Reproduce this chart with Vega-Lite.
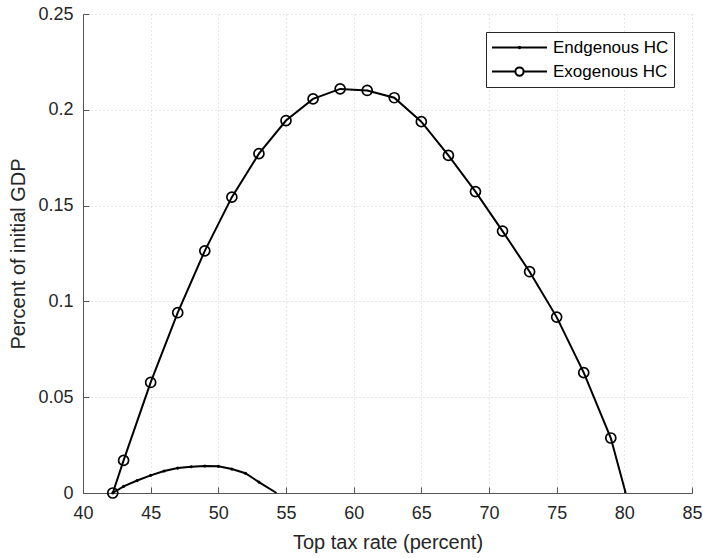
{
  "$schema": "https://vega.github.io/schema/vega-lite/v6.json",
  "width": 609,
  "height": 479,
  "autosize": "none",
  "padding": {"left": 83, "top": 14, "right": 11, "bottom": 65},
  "background": "white",
  "config": {
    "font": "Liberation Sans",
    "view": {"stroke": null},
    "axis": {
      "domainColor": "#555555",
      "tickColor": "#555555",
      "tickSize": -6,
      "labelFontSize": 18,
      "labelColor": "#262626",
      "labelFlush": false,
      "titleFontSize": 20,
      "titleFontWeight": "normal",
      "titleColor": "#262626",
      "gridColor": "#cccccc",
      "gridDash": [1, 3],
      "gridWidth": 1
    }
  },
  "data": {
    "values": [
      {"series": "Endgenous HC", "rate": 42.2, "gdp": 0},
      {"series": "Endgenous HC", "rate": 43, "gdp": 0.0035},
      {"series": "Endgenous HC", "rate": 44, "gdp": 0.0065},
      {"series": "Endgenous HC", "rate": 45, "gdp": 0.0092},
      {"series": "Endgenous HC", "rate": 46, "gdp": 0.0115},
      {"series": "Endgenous HC", "rate": 47, "gdp": 0.013},
      {"series": "Endgenous HC", "rate": 48, "gdp": 0.0137},
      {"series": "Endgenous HC", "rate": 49, "gdp": 0.0141},
      {"series": "Endgenous HC", "rate": 50, "gdp": 0.0139},
      {"series": "Endgenous HC", "rate": 51, "gdp": 0.0125},
      {"series": "Endgenous HC", "rate": 52, "gdp": 0.0103},
      {"series": "Endgenous HC", "rate": 53, "gdp": 0.0057},
      {"series": "Endgenous HC", "rate": 54.3, "gdp": 0},
      {"series": "Exogenous HC", "rate": 42.2, "gdp": 0},
      {"series": "Exogenous HC", "rate": 43, "gdp": 0.017},
      {"series": "Exogenous HC", "rate": 45, "gdp": 0.0577},
      {"series": "Exogenous HC", "rate": 47, "gdp": 0.0941},
      {"series": "Exogenous HC", "rate": 49, "gdp": 0.1264},
      {"series": "Exogenous HC", "rate": 51, "gdp": 0.1544},
      {"series": "Exogenous HC", "rate": 53, "gdp": 0.1771},
      {"series": "Exogenous HC", "rate": 55, "gdp": 0.1944},
      {"series": "Exogenous HC", "rate": 57, "gdp": 0.2057},
      {"series": "Exogenous HC", "rate": 59, "gdp": 0.2109},
      {"series": "Exogenous HC", "rate": 61, "gdp": 0.2101},
      {"series": "Exogenous HC", "rate": 63, "gdp": 0.2063},
      {"series": "Exogenous HC", "rate": 65, "gdp": 0.1938},
      {"series": "Exogenous HC", "rate": 67, "gdp": 0.1762},
      {"series": "Exogenous HC", "rate": 69, "gdp": 0.1573},
      {"series": "Exogenous HC", "rate": 71, "gdp": 0.1367},
      {"series": "Exogenous HC", "rate": 73, "gdp": 0.1155},
      {"series": "Exogenous HC", "rate": 75, "gdp": 0.0918},
      {"series": "Exogenous HC", "rate": 77, "gdp": 0.0628},
      {"series": "Exogenous HC", "rate": 79, "gdp": 0.0287},
      {"series": "Exogenous HC", "rate": 80.1, "gdp": 0}
    ]
  },
  "encoding": {
    "x": {
      "field": "rate",
      "type": "quantitative",
      "scale": {"domain": [40, 85], "nice": false, "zero": false},
      "axis": {
        "title": "Top tax rate (percent)",
        "values": [40, 45, 50, 55, 60, 65, 70, 75, 80, 85],
        "format": "~g",
        "labelPadding": 17,
        "titlePadding": 10
      }
    },
    "y": {
      "field": "gdp",
      "type": "quantitative",
      "scale": {"domain": [0, 0.25], "nice": false},
      "axis": {
        "title": "Percent of initial GDP",
        "values": [0, 0.05, 0.1, 0.15, 0.2, 0.25],
        "format": "~g",
        "labelPadding": 16,
        "titlePadding": 9
      }
    }
  },
  "layer": [
    {
      "mark": {"type": "line", "strokeWidth": 2},
      "encoding": {
        "stroke": {
          "field": "series",
          "type": "nominal",
          "scale": {"range": ["black", "black"]},
          "legend": {
            "title": null,
            "orient": "top-right",
            "offset": 18,
            "strokeColor": "#262626",
            "fillColor": "white",
            "padding": 5,
            "symbolSize": 3025,
            "clipHeight": 21,
            "rowPadding": 3,
            "labelFontSize": 17,
            "labelColor": "black",
            "labelOffset": 5,
            "symbolStrokeWidth": 2,
            "symbolStrokeColor": "black",
            "encode": {
              "symbols": {
                "update": {
                  "shape": {
                    "signal": "datum.value == 'Exogenous HC' ? 'M-1,0H-0.15M0.15,0H1M0.15,0C0.15,0.083,0.083,0.15,0,0.15C-0.083,0.15,-0.15,0.083,-0.15,0C-0.15,-0.083,-0.083,-0.15,0,-0.15C0.083,-0.15,0.15,-0.083,0.15,0Z' : 'M-1,0H1M0.03,0C0.03,0.017,0.017,0.03,0,0.03C-0.017,0.03,-0.03,0.017,-0.03,0C-0.03,-0.017,-0.017,-0.03,0,-0.03C0.017,-0.03,0.03,-0.017,0.03,0Z'"
                  }
                }
              }
            }
          }
        }
      }
    },
    {
      "transform": [{"filter": "datum.series == 'Exogenous HC' && datum.rate < 80"}],
      "mark": {"type": "point", "shape": "circle", "size": 100, "filled": false, "stroke": "black", "strokeWidth": 1.7, "opacity": 1}
    },
    {
      "transform": [{"filter": "datum.series == 'Endgenous HC' && datum.rate < 54"}],
      "mark": {"type": "point", "shape": "circle", "size": 10, "filled": true, "color": "black", "opacity": 1}
    }
  ]
}
